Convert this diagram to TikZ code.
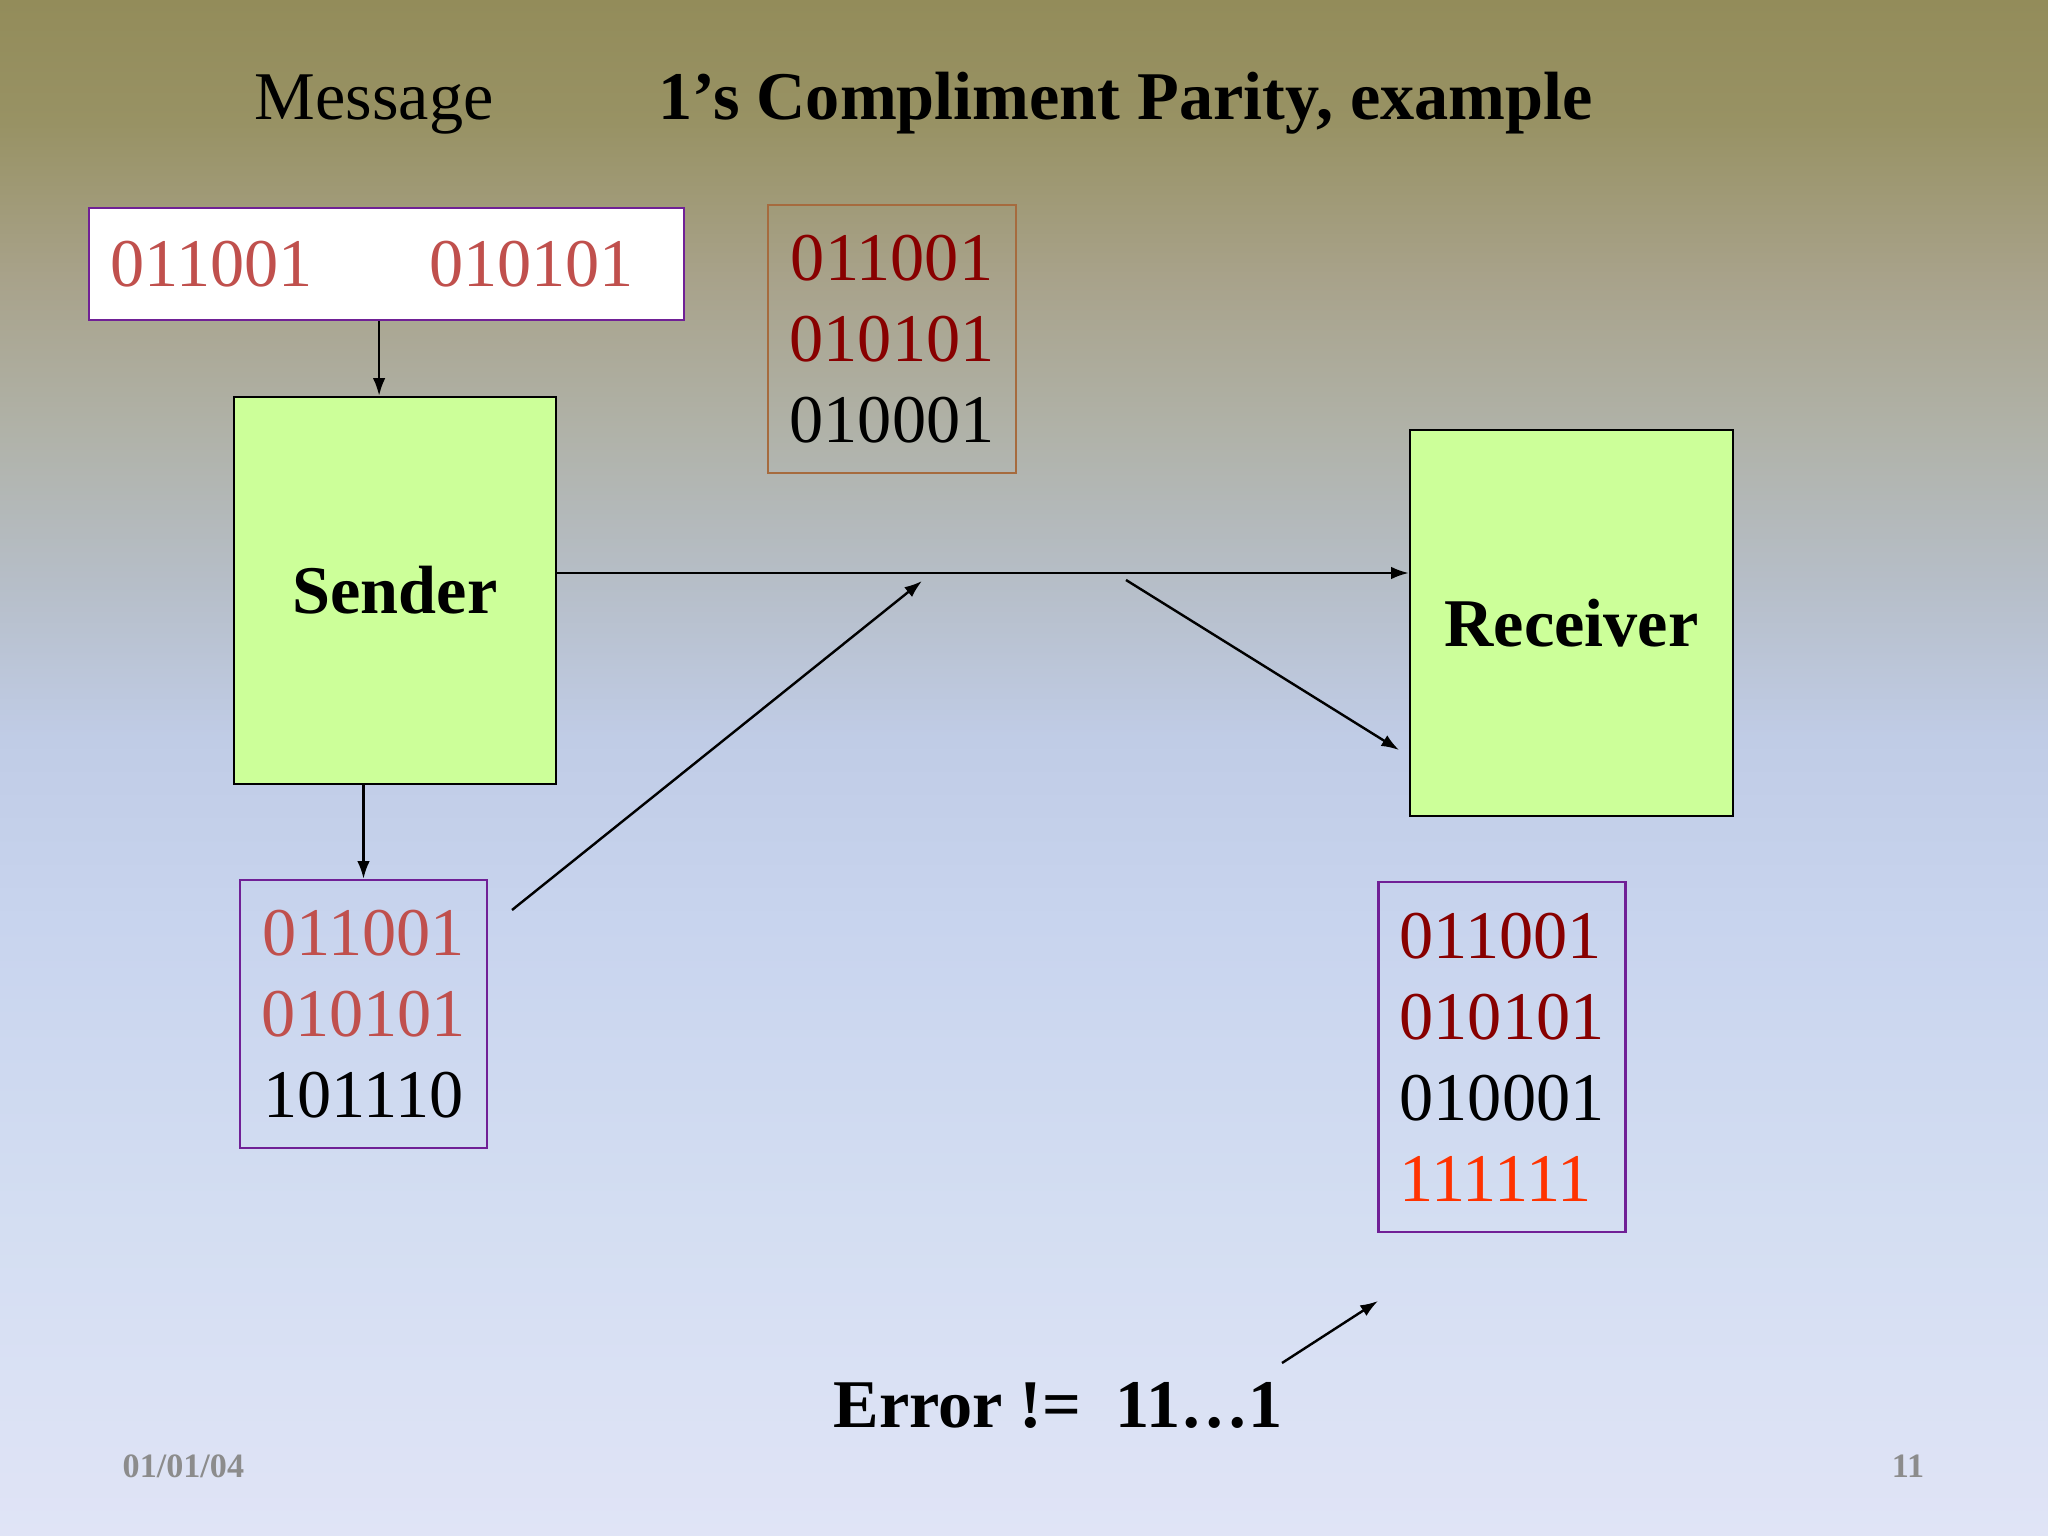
\documentclass[tikz,border=0pt]{standalone}
\usepackage{fontspec}
\setmainfont{Liberation Serif}
\usetikzlibrary{arrows.meta,calc}
\definecolor{bgA}{RGB}{147,140,90}
\definecolor{bgB}{RGB}{152,146,100}
\definecolor{bgC}{RGB}{168,162,138}
\definecolor{bgD}{RGB}{176,178,168}
\definecolor{bgE}{RGB}{182,190,200}
\definecolor{bgF}{RGB}{192,204,230}
\definecolor{bgG}{RGB}{200,212,238}
\definecolor{bgH}{RGB}{212,222,242}
\definecolor{bgI}{RGB}{224,228,246}
\definecolor{boxgreen}{RGB}{204,255,153}
\definecolor{boxpurple}{RGB}{112,32,150}
\definecolor{boxbrown}{RGB}{166,107,62}
\definecolor{msgred}{RGB}{192,80,77}
\definecolor{sumred}{RGB}{136,0,0}
\definecolor{errred}{RGB}{255,51,0}
\definecolor{footgray}{RGB}{140,140,140}
\pgfdeclareverticalshading{slidebg}{100bp}{color(0bp)=(bgI); color(25bp)=(bgI);
  color(35bp)=(bgH); color(45bp)=(bgG); color(51bp)=(bgF); color(56bp)=(bgE);
  color(61bp)=(bgD); color(66bp)=(bgC); color(71bp)=(bgB); color(75bp)=(bgA);
  color(100bp)=(bgA)}
\newcommand{\pxu}{0.3515625pt}
\newcommand{\slidesize}[0]{\fontsize{24}{28.5}\selectfont}

\begin{document}
\begin{tikzpicture}[x=0.3515625pt,y=-0.3515625pt,>={Latex[length=6.2pt,width=4.4pt]},line width=0.85pt]
\tikzstyle{block}=[draw=black,fill=boxgreen,inner sep=0pt,font=\slidesize\bfseries]
\tikzstyle{bits}=[draw=boxpurple,inner sep=0pt,align=center,font=\slidesize]
\shade[shading=slidebg] (0,0) rectangle (2048,1536);
\useasboundingbox (0,0) rectangle (2048,1536);
% title
\node[anchor=base west,font=\slidesize] (msgtitle) at (244,120) {Message};
\node[anchor=base west,font=\slidesize\bfseries] (title) at (648,120) {1’s Compliment Parity, example};
% boxes
\node[bits,fill=white,text=msgred,minimum width=595*\pxu,minimum height=112*\pxu]
  (msg) at (386.5,264) {011001\hspace{41pt}010101\hspace{10pt}};
\node[bits,draw=boxbrown,minimum width=248*\pxu,minimum height=268*\pxu]
  (sum) at (892,339) {\textcolor{sumred}{011001}\\\textcolor{sumred}{010101}\\010001};
\node[block,minimum width=322*\pxu,minimum height=387*\pxu] (sender) at (395,590.5) {Sender};
\node[block,minimum width=323*\pxu,minimum height=386*\pxu] (receiver) at (1571.5,623) {Receiver};
\node[bits,minimum width=247*\pxu,minimum height=268*\pxu]
  (out) at (363.5,1014) {\textcolor{msgred}{011001}\\\textcolor{msgred}{010101}\\101110};
\node[bits,align=left,minimum width=247*\pxu,minimum height=350*\pxu]
  (check) at (1502,1057) {\textcolor{sumred}{011001}\\\textcolor{sumred}{010101}\\010001\\\textcolor{errred}{111111}};
\node[anchor=base,font=\slidesize\bfseries] (err) at (1058,1427) {Error !=\ \ 11…1};
% footer
\node[anchor=base west,text=footgray,font=\fontsize{12}{14}\selectfont\bfseries] (date) at (112,1477) {01/01/04};
\node[anchor=base,text=footgray,font=\fontsize{12}{14}\selectfont\bfseries] (page) at (1908,1477) {11};
% connectors
\coordinate (wire) at (0,573);
\coordinate (up0) at (512,910);
\coordinate (up1) at (922,581);
\coordinate (dn0) at (1126,580);
\coordinate (dn1) at (1399,750);
\coordinate (er0) at (1282,1363);
\coordinate (er1) at (1378,1301);
\draw[->] ([xshift=-2.6pt]msg.south) -- ([xshift=-2.6pt]msg.south |- sender.north);
\draw[->] (out.north |- sender.south) -- (out.north);
\draw[->] (sender.east |- wire) -- (receiver.west |- wire);
\draw[->] (up0) -- (up1);
\draw[->] (dn0) -- (dn1);
\draw[->] (er0) -- (er1);
\end{tikzpicture}
\end{document}
